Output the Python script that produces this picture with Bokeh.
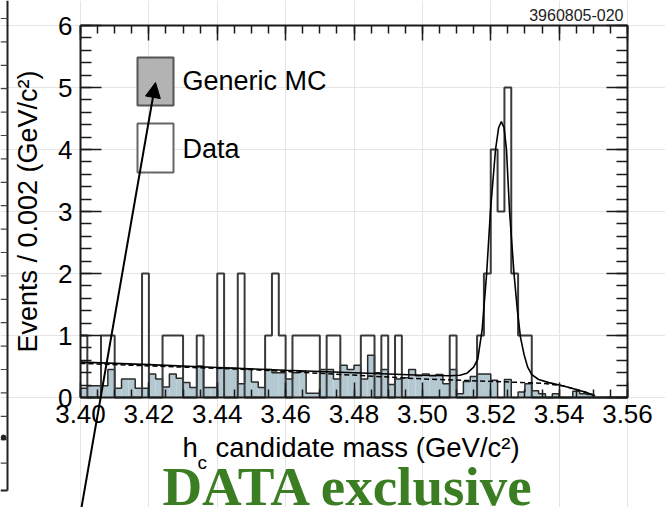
import numpy as np
from bokeh.plotting import figure
from bokeh.models import (Range1d, LinearAxis, FixedTicker, Arrow, NormalHead)
from bokeh.embed import file_html
from bokeh.resources import INLINE
from bokeh.core.properties import value

# ---------------- data ----------------
bin_start = 3.40
bin_width = 0.002
n_bins = 80

data_counts = [1, 0, 0, 1, 1, 0, 0, 0, 0, 2,
               0, 0, 1, 1, 1, 0, 0, 1, 0, 0,
               2, 0, 0, 2, 0, 0, 0, 1, 2, 1,
               0, 1, 1, 1, 1, 0, 1, 1, 0, 0,
               0, 1, 1, 0, 1, 0, 1, 0, 0, 0,
               0, 0, 0, 0, 1, 0, 0, 0, 1, 2,
               4, 3, 5, 2, 1, 1, 0, 0, 0, 0,
               0, 0, 0, 0, 0, 0, 0, 0, 0, 0]

mc_counts = [0.15, 0.19, 0.19, 0.19, 0.45, 0.15, 0.30, 0.30, 0.15, 0.15,
             0.38, 0.30, 0.17, 0.38, 0.31, 0.24, 0.16, 0.51, 0.16, 0.16,
             0.47, 0.47, 0.47, 0.22, 0.46, 0.25, 0.16, 0.45, 0.40, 0.40,
             0.30, 0.40, 0.42, 0.07, 0.07, 0.45, 0.45, 0.30, 0.52, 0.45,
             0.52, 0.30, 0.68, 0.40, 0.45, 0.21, 0.30, 0.32, 0.45, 0.35,
             0.38, 0.35, 0.37, 0.22, 0.45, 0.06, 0.26, 0.34, 0.38, 0.38,
             0.28, 0.00, 0.29, 0.00, 0.09, 0.22, 0.11, 0.06, 0.00, 0.06,
             0.00, 0.00, 0.10, 0.06, 0.05, 0.00, 0.00, 0.00, 0.00, 0.00]

fit_x = [3.400, 3.420, 3.440, 3.460, 3.480, 3.500, 3.508, 3.511, 3.513, 3.515,
         3.5162, 3.5175, 3.5188, 3.5199, 3.5214, 3.5223, 3.5231, 3.5239, 3.5246, 3.5255,
         3.5268, 3.5278, 3.5287, 3.5298, 3.5308, 3.532, 3.534, 3.537, 3.541, 3.545,
         3.548, 3.5505]
fit_y = [0.57, 0.53, 0.485, 0.44, 0.40, 0.36, 0.35, 0.36, 0.39, 0.49,
         0.62, 1.10, 2.00, 3.00, 4.00, 4.35, 4.45, 4.35, 4.00, 3.00,
         2.00, 1.40, 0.97, 0.68, 0.49, 0.37, 0.29, 0.24, 0.19, 0.13,
         0.08, 0.03]

bkg_x = [3.400, 3.450, 3.500, 3.520, 3.535, 3.541, 3.545, 3.548, 3.5505]
bkg_y = [0.55, 0.45, 0.30, 0.26, 0.23, 0.19, 0.13, 0.08, 0.03]

x_ticks = [3.40, 3.42, 3.44, 3.46, 3.48, 3.50, 3.52, 3.54, 3.56]
x_tick_labels = ["3.40", "3.42", "3.44", "3.46", "3.48", "3.50", "3.52", "3.54", "3.56"]
y_ticks = [0, 1, 2, 3, 4, 5, 6]
y_tick_labels = ["0", "1", "2", "3", "4", "5", "6"]

legend_labels = ["Generic MC", "Data"]
y_title = "Events / 0.002 (GeV/c²)"
x_title_main = "h"
x_title_sub = "c"
x_title_rest = "candidate mass (GeV/c²)"
figure_id = "3960805-020"
caption = "DATA exclusive"

# ---------------- layout / styles ----------------
W, H = 665, 507
FRAME_L, FRAME_R, FRAME_T, FRAME_B = 80, 627, 25, 397   # plot box in pixels
X0, X1, Y0, Y1 = 3.40, 3.56, 0.0, 6.0
xpp = (X1 - X0) / (FRAME_R - FRAME_L)   # data units per pixel
ypp = (Y1 - Y0) / (FRAME_B - FRAME_T)


def sx(px):
    return X0 + (px - FRAME_L) * xpp


def sy(py):
    return Y0 + (FRAME_B - py) * ypp


FONT = "Liberation Sans"
MC_FILL = "#b3c8d0"
INK = "#1a1a1a"

edges = bin_start + bin_width * np.arange(n_bins + 1)
x_minor = [round(3.40 + 0.005 * i, 4) for i in range(33)]
y_minor = [round(0.2 * i, 2) for i in range(31)]

p = figure(width=W, height=H,
           x_range=Range1d(sx(0), sx(W)), y_range=Range1d(sy(H), sy(0)),
           x_axis_location=None, y_axis_location=None,
           output_backend="svg", toolbar_location=None,
           min_border_left=0, min_border_right=0,
           min_border_top=0, min_border_bottom=0)
p.title.visible = False
p.outline_line_color = None
p.background_fill_color = "white"
p.border_fill_color = "white"

xt = FixedTicker(ticks=x_ticks, minor_ticks=x_minor)
yt = FixedTicker(ticks=y_ticks, minor_ticks=y_minor)


def make_axis(ticker, loc, bounds, major, minor, labels):
    ax = LinearAxis(ticker=ticker, fixed_location=loc, bounds=bounds)
    ax.major_tick_in = major
    ax.major_tick_out = 0
    ax.minor_tick_in = minor
    ax.minor_tick_out = 0
    ax.axis_line_color = INK
    ax.axis_line_width = 2
    ax.major_tick_line_color = INK
    ax.major_tick_line_width = 1.5
    ax.minor_tick_line_color = INK
    ax.minor_tick_line_width = 1.5
    if labels:
        ax.major_label_text_font = FONT
        ax.major_label_text_font_size = "26px"
        ax.major_label_text_color = "black"
    else:
        ax.major_label_text_font_size = "1px"
        ax.major_label_text_alpha = 0
        ax.major_label_standoff = 0
    return ax


xa = make_axis(xt, Y0, (X0, X1), 15, 8, True)
xa.major_label_overrides = {t: l for t, l in zip(x_ticks, x_tick_labels)}
xa.major_label_standoff = 7
p.add_layout(xa, "below")

ya = make_axis(yt, X0, (Y0, Y1), 21, 11, True)
ya.major_label_overrides = {t: l for t, l in zip(y_ticks, y_tick_labels)}
ya.major_label_standoff = 8
ya.axis_label = y_title
ya.axis_label_text_font = FONT
ya.axis_label_text_font_size = "27px"
ya.axis_label_text_font_style = "normal"
ya.axis_label_text_color = "black"
ya.axis_label_standoff = 12
p.add_layout(ya, "left")

p.add_layout(make_axis(xt, Y1, (X0, X1), 15, 8, False), "above")
p.add_layout(make_axis(yt, X1, (Y0, Y1), 21, 11, False), "right")

# MC histogram (filled) and outline
p.quad(left=edges[:-1], right=edges[1:], bottom=0, top=mc_counts,
       fill_color=MC_FILL, line_color=None)
p.step(x=edges, y=list(mc_counts) + [mc_counts[-1]], mode="after",
       line_color="#2a2a2a", line_width=1.5)

# Data histogram outline
p.step(x=edges, y=list(data_counts) + [data_counts[-1]], mode="after",
       line_color="#3a3a3a", line_width=2)

# Fit: background (dashed) and total (solid)
p.line(bkg_x, bkg_y, line_color="black", line_width=1.5, line_dash="5 3")
p.line(fit_x, fit_y, line_color="black", line_width=1.6)

# Legend boxes and labels
p.quad(left=[sx(137)], right=[sx(173)], bottom=[sy(105)], top=[sy(57)],
       fill_color="#b3b3b3", line_color="#555555", line_width=2)
p.quad(left=[sx(137)], right=[sx(173)], bottom=[sy(172)], top=[sy(123)],
       fill_color="white", line_color="#666666", line_width=2)
p.text(x=[sx(182), sx(182)], y=[sy(80), sy(148)], text=legend_labels,
       text_font=value(FONT), text_font_size="27px", text_color="black",
       text_baseline="middle", text_align="left")

# x-axis title with subscript
p.text(x=[sx(182)], y=[sy(447)], text=[x_title_main], text_font=value(FONT),
       text_font_size="27.5px", text_color="black",
       text_baseline="middle", text_align="left")
p.text(x=[sx(197)], y=[sy(462)], text=[x_title_sub], text_font=value(FONT),
       text_font_size="19px", text_color="black",
       text_baseline="middle", text_align="left")
p.text(x=[sx(215)], y=[sy(447)], text=[x_title_rest], text_font=value(FONT),
       text_font_size="27.5px", text_color="black",
       text_baseline="middle", text_align="left")

# figure id, top right
p.text(x=[sx(623)], y=[sy(14.5)], text=[figure_id], text_font=value(FONT),
       text_font_size="16px", text_color="#222222",
       text_baseline="middle", text_align="right")

# caption
p.text(x=[sx(348)], y=[sy(486)], text=[caption], text_font=value("Liberation Serif"),
       text_font_size="55px", text_font_style="bold", text_color="#3b7d23",
       text_baseline="middle", text_align="center")

# arrow
p.add_layout(Arrow(end=NormalHead(size=15, fill_color="black", line_color="black"),
                   x_start=sx(81), y_start=sy(507), x_end=sx(155), y_end=sy(82),
                   line_color="black", line_width=2))

# ---- left strip: edge of the neighbouring panel ----
p.segment(x0=[sx(7)], y0=[sy(0)], x1=[sx(7)], y1=[sy(490)],
          line_color="#222222", line_width=2)
tick_py = [18 + 23.4 * i for i in range(20)]
p.segment(x0=[sx(0)] * len(tick_py), y0=[sy(t) for t in tick_py],
          x1=[sx(7)] * len(tick_py), y1=[sy(t) for t in tick_py],
          line_color="#444444", line_width=1.2)
p.segment(x0=[sx(0)], y0=[sy(490)], x1=[sx(7)], y1=[sy(490)],
          line_color="#222222", line_width=2)
p.scatter(x=[sx(3)], y=[sy(437)], size=5, color="#222222")

open("out.html", "w").write(file_html(p, INLINE))
